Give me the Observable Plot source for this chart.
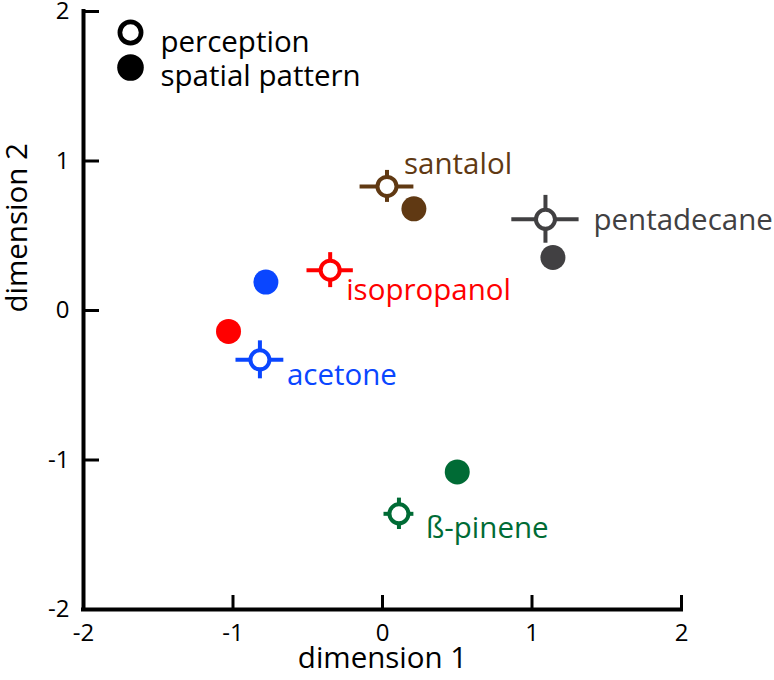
<!DOCTYPE html>
<html>
<head>
<meta charset="utf-8">
<script src="https://cdn.jsdelivr.net/npm/d3@7"></script>
<script src="https://cdn.jsdelivr.net/npm/@observablehq/plot@0.6"></script>
<style>
  body { margin: 0; background: #fff; }
</style>
</head>
<body>
<div id="chart"></div>
<script>
// ---- data ----
const odors    = ["santalol", "pentadecane", "isopropanol", "acetone", "ß-pinene"];
const colors   = ["#603913", "#414042", "#ff0000", "#0a46ff", "#006b35"];
// perception (open circles) with error bars
const percX    = [0.03, 1.09, -0.35, -0.82, 0.11];
const percY    = [0.83, 0.61, 0.27, -0.33, -1.36];
const percXErr = [0.18, 0.225, 0.155, 0.16, 0.10];
const percYErr = [0.107, 0.16, 0.117, 0.127, 0.105];
// spatial pattern (filled circles)
const spatX    = [0.21, 1.14, -1.03, -0.78, 0.50];
const spatY    = [0.68, 0.355, -0.14, 0.19, -1.08];
// axes
const xTicks = [-2, -1, 0, 1, 2];
const yTicks = [-2, -1, 0, 1, 2];
const legendLabels = ["perception", "spatial pattern"];
const axisLabels = ["dimension 1", "dimension 2"];

// ---- layout ----
const W = 774, H = 680, mL = 83, mR = 93, mT = 11, mB = 71;
const unitX = (W - mL - mR) / 4, unitY = (H - mT - mB) / 4;
const labelDx = [17, 48, 16, 27, 27];
const labelDy = [-22, 1, 20, 16, 15];

const rows = odors.map((name, i) => ({
  name, color: colors[i],
  px: percX[i], py: percY[i], pxe: percXErr[i], pye: percYErr[i],
  sx: spatX[i], sy: spatY[i]
}));

const fmt = d => d < 0 ? "-" + Math.abs(d) : String(d);
const fs = 29.5;
const tfs = 24;

const chart = Plot.plot({
  width: W, height: H,
  marginLeft: mL, marginRight: mR, marginTop: mT, marginBottom: mB,
  style: { fontFamily: "'Open Sans', sans-serif", background: "white", color: "black", overflow: "visible" },
  x: { domain: [-2, 2], axis: null },
  y: { domain: [-2, 2], axis: null },
  color: { type: "identity" },
  marks: [
    // ticks (inward)
    Plot.ruleY(yTicks.slice(1), { y: d => d, x1: -2, x2: -2 + 16 / unitX, stroke: "black", strokeWidth: 3 }),
    Plot.ruleX(xTicks.slice(1), { x: d => d, y1: -2, y2: -2 + 14 / unitY, stroke: "black", strokeWidth: 3 }),
    // axis lines
    Plot.ruleX([-2], { stroke: "black", strokeWidth: 4, strokeLinecap: "square" }),
    Plot.ruleY([-2], { stroke: "black", strokeWidth: 4, strokeLinecap: "square" }),
    // tick labels
    Plot.text(xTicks, { x: d => d, y: -2, text: fmt, dy: 14, lineAnchor: "top", fontSize: tfs, fill: "black" }),
    Plot.text(yTicks, { x: -2, y: d => d, text: fmt, dx: -14, textAnchor: "end", fontSize: tfs, fill: "black" }),
    // axis titles
    Plot.text([axisLabels[0]], { frameAnchor: "bottom", dy: 58.5, fontSize: fs, fill: "black" }),
    Plot.text([axisLabels[1]], { frameAnchor: "left", dx: -66, dy: 2, rotate: -90, fontSize: fs, fill: "black" }),
    // error bars
    Plot.ruleY(rows, { y: "py", x1: d => d.px - d.pxe, x2: d => d.px + d.pxe, stroke: "color", strokeWidth: 4 }),
    Plot.ruleX(rows, { x: "px", y1: d => d.py - d.pye, y2: d => d.py + d.pye, stroke: "color", strokeWidth: 4 }),
    // perception open circles
    Plot.dot(rows, { x: "px", y: "py", r: 9.5, fill: "white", stroke: "color", strokeWidth: 4 }),
    // spatial pattern filled
    Plot.dot(rows, { x: "sx", y: "sy", r: 12.5, fill: "color", stroke: "none" }),
    // labels
    ...rows.map((d, i) => Plot.text([d], {
      x: "px", y: "py", text: "name", fill: "color", textAnchor: "start",
      dx: labelDx[i], dy: labelDy[i], fontSize: fs
    })),
    // legend
    Plot.dot([0], { frameAnchor: "top-left", dx: 47, dy: 21, r: 10.6, fill: "white", stroke: "black", strokeWidth: 4.7 }),
    Plot.dot([0], { frameAnchor: "top-left", dx: 47, dy: 56, r: 13.3, fill: "black", stroke: "none" }),
    Plot.text([legendLabels[0]], { frameAnchor: "top-left", dx: 77, dy: 19.7, textAnchor: "start", fontSize: fs, fill: "black" }),
    Plot.text([legendLabels[1]], { frameAnchor: "top-left", dx: 77, dy: 53.7, textAnchor: "start", fontSize: fs, fill: "black" })
  ]
});
document.getElementById("chart").appendChild(chart);
</script>
</body>
</html>
